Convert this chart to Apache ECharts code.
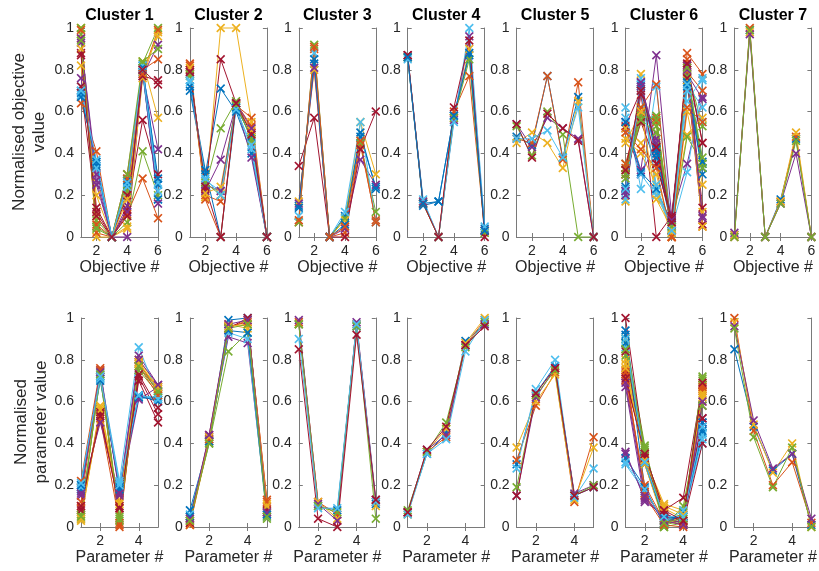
<!DOCTYPE html>
<html>
<head>
<meta charset="utf-8">
<script src="https://cdn.jsdelivr.net/npm/echarts@6/dist/echarts.min.js"></script>
<style>
  html, body { margin: 0; padding: 0; background: #fff; }
  #chart { width: 819px; height: 571px; }
</style>
</head>
<body>
<div id="chart"></div>
<script>
// MATLAB default colour order, lines cycle through it
const palette = ['#0072BD', '#D95319', '#EDB120', '#7E2F8E', '#77AC30', '#4DBEEE', '#A2142F']
const clusterTitles = ['Cluster 1', 'Cluster 2', 'Cluster 3', 'Cluster 4', 'Cluster 5', 'Cluster 6', 'Cluster 7']
const objTicks = [2, 4, 6]
const parTicks = [2, 4]

// normalised objective values, one row per solution (objectives 1..6)
const obj1 = [
  [0.70, 0.35, 0, 0.25, 0.82, 0.25],
  [0.64, 0.41, 0, 0.11, 0.28, 0.09],
  [1.00, 0.00, 0, 0.05, 0.84, 0.57],
  [0.76, 0.27, 0, 0.00, 0.78, 0.42],
  [0.97, 0.08, 0, 0.07, 0.41, 0.20],
  [0.68, 0.36, 0, 0.28, 0.80, 0.18],
  [0.88, 0.14, 0, 0.13, 0.56, 0.30],
  [0.69, 0.34, 0, 0.26, 0.79, 0.18],
  [0.95, 0.02, 0, 0.30, 0.80, 0.85],
  [0.82, 0.20, 0, 0.04, 0.76, 0.98],
  [0.93, 0.30, 0, 0.15, 0.77, 0.92],
  [1.00, 0.05, 0, 0.22, 0.83, 1.00],
  [0.72, 0.33, 0, 0.24, 0.82, 0.26],
  [0.72, 0.12, 0, 0.20, 0.77, 0.75],
  [0.67, 0.36, 0, 0.27, 0.81, 0.28],
  [0.99, 0.06, 0, 0.28, 0.78, 0.99],
  [0.90, 0.10, 0, 0.18, 0.80, 0.96],
  [0.95, 0.25, 0, 0.12, 0.80, 0.16],
  [0.94, 0.04, 0, 0.30, 0.84, 0.90],
  [0.70, 0.37, 0, 0.26, 0.80, 0.22],
  [0.87, 0.10, 0, 0.10, 0.80, 0.73]
]
const obj2 = [
  [0.70, 0.30, 0.71, 0.60, 0.40, 0],
  [0.83, 0.20, 0.17, 0.63, 0.57, 0],
  [0.80, 0.19, 1.00, 1.00, 0.55, 0],
  [0.78, 0.22, 0.37, 0.63, 0.38, 0],
  [0.77, 0.24, 0.52, 0.65, 0.46, 0],
  [0.74, 0.27, 0.22, 0.62, 0.42, 0],
  [0.80, 0.23, 0.85, 0.64, 0.50, 0],
  [0.72, 0.32, 0.00, 0.62, 0.48, 0],
  [0.82, 0.18, 0.00, 0.64, 0.53, 0],
  [0.81, 0.21, 0.24, 0.63, 0.51, 0],
  [0.79, 0.25, 0.22, 0.64, 0.52, 0],
  [0.78, 0.26, 0.20, 0.63, 0.47, 0],
  [0.75, 0.28, 0.20, 0.61, 0.44, 0],
  [0.79, 0.24, 0.00, 0.64, 0.49, 0]
]
const obj3 = [
  [0.15, 0.83, 0, 0.10, 0.48, 0.24],
  [0.07, 0.90, 0, 0.02, 0.44, 0.08],
  [0.17, 0.80, 0, 0.08, 0.55, 0.30],
  [0.16, 0.81, 0, 0.04, 0.37, 0.25],
  [0.07, 0.92, 0, 0.09, 0.45, 0.12],
  [0.10, 0.88, 0, 0.12, 0.55, 0.07],
  [0.34, 0.57, 0, 0.00, 0.42, 0.60],
  [0.14, 0.85, 0, 0.06, 0.50, 0.23],
  [0.08, 0.91, 0, 0.05, 0.46, 0.07]
]
const obj4 = [
  [0.86, 0.15, 0.17, 0.58, 0.87, 0.04],
  [0.87, 0.16, 0.00, 0.60, 0.77, 0.03],
  [0.86, 0.17, 0.00, 0.57, 0.90, 0.02],
  [0.87, 0.17, 0.00, 0.56, 0.96, 0.03],
  [0.86, 0.16, 0.00, 0.57, 0.85, 0.02],
  [0.85, 0.18, 0.00, 0.55, 1.00, 0.05],
  [0.87, 0.16, 0.00, 0.62, 0.94, 0.00],
  [0.86, 0.16, 0.17, 0.58, 0.88, 0.03]
]
const obj5 = [
  [0.48, 0.44, 0.77, 0.38, 0.67, 0],
  [0.47, 0.45, 0.77, 0.37, 0.74, 0],
  [0.45, 0.50, 0.45, 0.33, 0.65, 0],
  [0.54, 0.43, 0.57, 0.52, 0.47, 0],
  [0.53, 0.39, 0.60, 0.49, 0.00, 0],
  [0.47, 0.47, 0.51, 0.38, 0.62, 0],
  [0.54, 0.38, 0.59, 0.52, 0.46, 0]
]
const obj6 = [
  [0.22, 0.73, 0.38, 0.05, 0.75, 0.35],
  [0.33, 0.58, 0.57, 0.00, 0.88, 0.78],
  [0.17, 0.78, 0.20, 0.08, 0.49, 0.57],
  [0.55, 0.32, 0.87, 0.10, 0.35, 0.67],
  [0.35, 0.55, 0.58, 0.02, 0.80, 0.53],
  [0.62, 0.23, 0.72, 0.04, 0.31, 0.75],
  [0.53, 0.70, 0.00, 0.10, 0.82, 0.14],
  [0.20, 0.74, 0.40, 0.06, 0.72, 0.33],
  [0.30, 0.60, 0.55, 0.00, 0.85, 0.05],
  [0.47, 0.40, 0.25, 0.00, 0.60, 0.25],
  [0.52, 0.30, 0.45, 0.09, 0.78, 0.66],
  [0.28, 0.62, 0.53, 0.03, 0.48, 0.35],
  [0.18, 0.76, 0.22, 0.05, 0.70, 0.55],
  [0.23, 0.68, 0.35, 0.08, 0.81, 0.45],
  [0.24, 0.72, 0.42, 0.06, 0.76, 0.36],
  [0.35, 0.62, 0.73, 0.00, 0.79, 0.70],
  [0.52, 0.45, 0.30, 0.02, 0.75, 0.12],
  [0.20, 0.72, 0.47, 0.06, 0.82, 0.10],
  [0.32, 0.58, 0.56, 0.04, 0.77, 0.38],
  [0.57, 0.30, 0.20, 0.05, 0.65, 0.76],
  [0.30, 0.55, 0.35, 0.09, 0.76, 0.06],
  [0.55, 0.31, 0.23, 0.07, 0.74, 0.30],
  [0.50, 0.42, 0.33, 0.00, 0.62, 0.55],
  [0.45, 0.60, 0.18, 0.04, 0.80, 0.05],
  [0.22, 0.74, 0.43, 0.08, 0.80, 0.09],
  [0.30, 0.56, 0.50, 0.05, 0.81, 0.33],
  [0.23, 0.70, 0.25, 0.03, 0.73, 0.62],
  [0.32, 0.70, 0.43, 0.07, 0.83, 0.45]
]
const obj7 = [
  [0.01, 0.99, 0, 0.18, 0.47, 0],
  [0.00, 1.00, 0, 0.17, 0.48, 0],
  [0.01, 0.98, 0, 0.17, 0.50, 0],
  [0.02, 0.97, 0, 0.16, 0.40, 0],
  [0.00, 0.99, 0, 0.16, 0.46, 0]
]

// normalised parameter values, one row per solution (parameters 1..5)
const par1 = [
  [0.19, 0.71, 0.20, 0.62, 0.61],
  [0.22, 0.76, 0.00, 0.78, 0.66],
  [0.03, 0.57, 0.10, 0.80, 0.67],
  [0.17, 0.75, 0.17, 0.82, 0.68],
  [0.04, 0.74, 0.05, 0.77, 0.65],
  [0.20, 0.73, 0.22, 0.86, 0.63],
  [0.09, 0.54, 0.09, 0.72, 0.54],
  [0.18, 0.70, 0.19, 0.62, 0.62],
  [0.10, 0.52, 0.02, 0.79, 0.64],
  [0.05, 0.58, 0.12, 0.79, 0.66],
  [0.15, 0.50, 0.15, 0.61, 0.67],
  [0.06, 0.72, 0.03, 0.75, 0.64],
  [0.19, 0.71, 0.21, 0.63, 0.62],
  [0.08, 0.55, 0.10, 0.70, 0.50],
  [0.20, 0.72, 0.18, 0.63, 0.60],
  [0.12, 0.75, 0.01, 0.77, 0.63],
  [0.04, 0.56, 0.11, 0.78, 0.67],
  [0.16, 0.74, 0.16, 0.80, 0.68],
  [0.05, 0.73, 0.04, 0.77, 0.65],
  [0.21, 0.72, 0.20, 0.63, 0.61],
  [0.10, 0.53, 0.09, 0.73, 0.57]
]
const par2 = [
  [0.08, 0.41, 0.99, 1.00, 0.06],
  [0.02, 0.42, 0.96, 0.98, 0.13],
  [0.01, 0.41, 0.97, 0.95, 0.11],
  [0.03, 0.43, 0.91, 0.88, 0.07],
  [0.04, 0.40, 0.84, 0.93, 0.04],
  [0.06, 0.42, 0.93, 0.90, 0.05],
  [0.02, 0.44, 0.95, 1.00, 0.08],
  [0.05, 0.41, 0.94, 0.93, 0.06],
  [0.01, 0.42, 0.95, 0.99, 0.12],
  [0.03, 0.43, 0.96, 0.97, 0.10],
  [0.04, 0.44, 0.97, 0.99, 0.07],
  [0.03, 0.40, 0.95, 0.97, 0.05]
]
const par3 = [
  [0.97, 0.10, 0.08, 0.96, 0.11],
  [0.98, 0.12, 0.06, 0.97, 0.12],
  [0.97, 0.12, 0.04, 0.97, 0.10],
  [0.99, 0.11, 0.03, 0.98, 0.13],
  [0.97, 0.10, 0.07, 0.96, 0.04],
  [0.90, 0.09, 0.09, 0.97, 0.12],
  [0.85, 0.04, 0.00, 0.92, 0.13]
]
const par4 = [
  [0.07, 0.35, 0.45, 0.89, 0.97],
  [0.07, 0.36, 0.43, 0.87, 0.99],
  [0.06, 0.36, 0.47, 0.88, 1.00],
  [0.07, 0.37, 0.44, 0.87, 0.97],
  [0.08, 0.36, 0.50, 0.86, 0.98],
  [0.06, 0.35, 0.42, 0.84, 0.99],
  [0.07, 0.37, 0.48, 0.87, 0.96]
]
const par5 = [
  [0.30, 0.64, 0.77, 0.15, 0.19],
  [0.32, 0.58, 0.74, 0.12, 0.43],
  [0.38, 0.60, 0.73, 0.13, 0.38],
  [0.15, 0.62, 0.76, 0.16, 0.20],
  [0.19, 0.63, 0.75, 0.15, 0.20],
  [0.28, 0.66, 0.80, 0.14, 0.28],
  [0.15, 0.64, 0.76, 0.15, 0.19]
]
const par6 = [
  [0.94, 0.30, 0.03, 0.05, 0.45],
  [0.72, 0.35, 0.02, 0.03, 0.65],
  [0.80, 0.33, 0.11, 0.08, 0.60],
  [0.36, 0.13, 0.05, 0.03, 0.50],
  [0.90, 0.39, 0.00, 0.02, 0.72],
  [0.30, 0.17, 0.03, 0.06, 0.40],
  [1.00, 0.35, 0.08, 0.14, 0.68],
  [0.33, 0.19, 0.01, 0.07, 0.48],
  [0.75, 0.16, 0.04, 0.02, 0.68],
  [0.85, 0.30, 0.02, 0.05, 0.62],
  [0.67, 0.12, 0.06, 0.01, 0.58],
  [0.88, 0.36, 0.01, 0.03, 0.70],
  [0.86, 0.32, 0.05, 0.04, 0.44],
  [0.73, 0.34, 0.07, 0.02, 0.40],
  [0.92, 0.18, 0.02, 0.06, 0.50],
  [0.70, 0.20, 0.03, 0.01, 0.66],
  [0.78, 0.31, 0.09, 0.04, 0.64],
  [0.35, 0.14, 0.04, 0.02, 0.52],
  [0.82, 0.37, 0.00, 0.10, 0.58],
  [0.31, 0.18, 0.02, 0.08, 0.42],
  [0.84, 0.33, 0.06, 0.03, 0.52],
  [0.88, 0.31, 0.04, 0.05, 0.46],
  [0.74, 0.15, 0.01, 0.00, 0.67],
  [0.76, 0.32, 0.10, 0.06, 0.63],
  [0.69, 0.15, 0.03, 0.01, 0.60],
  [0.85, 0.38, 0.02, 0.04, 0.71],
  [0.90, 0.31, 0.05, 0.05, 0.48],
  [0.71, 0.35, 0.08, 0.03, 0.69]
]
const par7 = [
  [0.85, 0.48, 0.27, 0.35, 0.01],
  [1.00, 0.46, 0.20, 0.31, 0.02],
  [0.98, 0.49, 0.26, 0.40, 0.00],
  [0.96, 0.51, 0.28, 0.35, 0.04],
  [0.95, 0.43, 0.19, 0.38, 0.00]
]

const objRows = [obj1, obj2, obj3, obj4, obj5, obj6, obj7]
const parRows = [par1, par2, par3, par4, par5, par6, par7]

const FONT = '"Liberation Sans", Arial, Helvetica, sans-serif'
const xMark = 'path://M0,1.3L1.3,0L5,3.7L8.7,0L10,1.3L6.3,5L10,8.7L8.7,10L5,6.3L1.3,10L0,8.7L3.7,5Z'
const frameColor = '#7a7a7a'
const textColor = '#262626'

const chart = echarts.init(document.getElementById('chart'))

const grids = []
const xAxes = []
const yAxes = []
const series = []
const graphics = []

function addPanel(col, row, rows, xMax, ticks, xName) {
  const gi = grids.length
  const left = 81 + col * 108.9
  const top = row === 0 ? 28 : 318
  grids.push({ left: left, top: top, width: 77, height: 209 })

  const tickStyle = { show: true, inside: true, length: 4, customValues: ticks, lineStyle: { color: frameColor } }
  // main bottom axis
  xAxes.push({
    gridIndex: gi, type: 'value', min: 1, max: xMax, position: 'bottom',
    axisLine: { lineStyle: { color: frameColor, width: 1 } },
    axisTick: tickStyle,
    axisLabel: { customValues: ticks, color: textColor, fontSize: 14, fontFamily: FONT, margin: 7 },
    splitLine: { show: false },
    name: xName, nameLocation: 'middle', nameGap: 23,
    nameTextStyle: { color: textColor, fontSize: 16, fontFamily: FONT }
  })
  // top edge of box
  xAxes.push({
    gridIndex: gi, type: 'value', min: 1, max: xMax, position: 'top',
    axisLine: { lineStyle: { color: frameColor, width: 1 } },
    axisTick: tickStyle,
    axisLabel: { show: false }, splitLine: { show: false }
  })
  const yTick = { show: true, inside: true, length: 4, lineStyle: { color: frameColor } }
  yAxes.push({
    gridIndex: gi, type: 'value', min: 0, max: 1, interval: 0.2, position: 'left',
    axisLine: { show: true, lineStyle: { color: frameColor, width: 1 } },
    axisTick: yTick,
    axisLabel: {
      color: textColor, fontSize: 14, fontFamily: FONT, margin: 7,
      formatter: v => (v === 0 ? '0' : v === 1 ? '1' : v.toFixed(1))
    },
    splitLine: { show: false }
  })
  yAxes.push({
    gridIndex: gi, type: 'value', min: 0, max: 1, interval: 0.2, position: 'right',
    axisLine: { show: true, lineStyle: { color: frameColor, width: 1 } },
    axisTick: yTick,
    axisLabel: { show: false }, splitLine: { show: false }
  })

  const xi = gi * 2
  rows.forEach((vals, k) => {
    const c = palette[k % palette.length]
    series.push({
      type: 'line',
      xAxisIndex: xi, yAxisIndex: xi,
      data: vals.map((v, j) => [j + 1, v]),
      symbol: xMark, symbolSize: 9,
      showSymbol: true,
      lineStyle: { color: c, width: 1 },
      itemStyle: { color: c },
      silent: true,
      clip: false
    })
  })
}

for (let i = 0; i < 7; i++) {
  addPanel(i, 0, objRows[i], 6, objTicks, 'Objective #')
  graphics.push({
    type: 'text', x: 81 + i * 108.9 + 38.5, y: 16,
    style: { text: clusterTitles[i], align: 'center', verticalAlign: 'middle', fontSize: 16, fontWeight: 'bold', fontFamily: FONT, fill: '#000' }
  })
}
for (let i = 0; i < 7; i++) {
  addPanel(i, 1, parRows[i], 5, parTicks, 'Parameter #')
}

graphics.push({
  type: 'text', x: 29, y: 132, rotation: Math.PI / 2,
  style: { text: 'Normalised objective\nvalue', align: 'center', verticalAlign: 'middle', lineHeight: 20, fontSize: 17, fontFamily: FONT, fill: textColor }
})
graphics.push({
  type: 'text', x: 31, y: 422, rotation: Math.PI / 2,
  style: { text: 'Normalised\nparameter value', align: 'center', verticalAlign: 'middle', lineHeight: 20, fontSize: 17, fontFamily: FONT, fill: textColor }
})

chart.setOption({
  animation: false,
  backgroundColor: '#fff',
  grid: grids,
  xAxis: xAxes,
  yAxis: yAxes,
  series: series,
  graphic: graphics
})
</script>
</body>
</html>
